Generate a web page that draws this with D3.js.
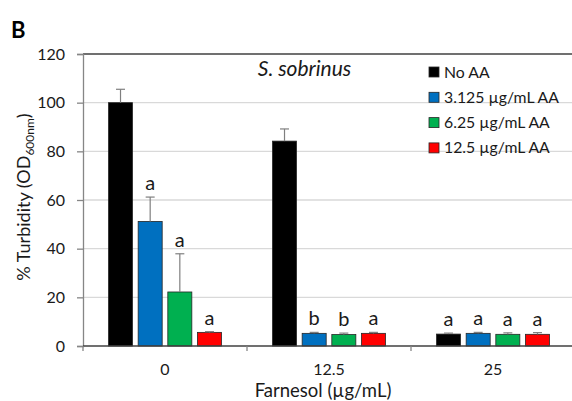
<!DOCTYPE html>
<html>
<head>
<meta charset="utf-8">
<script src="https://cdn.jsdelivr.net/npm/d3@7/dist/d3.min.js"></script>
<style>
  html, body { margin: 0; padding: 0; background: #fff; }
  svg { display: block; font-family: Lato, "Open Sans", sans-serif; }
</style>
</head>
<body>
<svg id="chart" width="572" height="401"></svg>
<script>
// Farnesol concentrations (x categories)
const categories = ["0", "12.5", "25"];
// Ascorbic acid treatments (series)
const seriesNames = ["No AA", "3.125 µg/mL AA", "6.25 µg/mL AA", "12.5 µg/mL AA"];
const seriesColors = ["#000000", "#0070c0", "#00b050", "#ff0000"];
// Mean % turbidity per series, one value per farnesol concentration
const noAA    = [100, 84.2, 4.9];
const aa3125  = [51.2, 5.2, 5.2];
const aa625   = [22.2, 4.7, 4.8];
const aa125   = [5.6, 5.2, 4.8];
// Standard deviations (upper error bars)
const noAAErr   = [5.5, 5.0, 0.4];
const aa3125Err = [10.0, 0.4, 0.4];
const aa625Err  = [15.7, 0.6, 0.6];
const aa125Err  = [0.3, 0.4, 0.7];
// Significance letters
const noAALetters   = ["", "", "a"];
const aa3125Letters = ["a", "b", "a"];
const aa625Letters  = ["a", "b", "a"];
const aa125Letters  = ["a", "a", "a"];
const yTicks = [0, 20, 40, 60, 80, 100, 120];

const values = [noAA, aa3125, aa625, aa125];
const errors = [noAAErr, aa3125Err, aa625Err, aa125Err];
const letters = [noAALetters, aa3125Letters, aa625Letters, aa125Letters];

const svg = d3.select("#chart");
const m = { left: 83, top: 54, right: 575, bottom: 346 };

const x0 = d3.scaleBand().domain(categories).range([m.left, m.right]);
// the four bars of a group sit in the middle of each category band
const groupWidth = 113;
const xs = d3.scaleBand().domain(d3.range(seriesNames.length))
  .range([(x0.bandwidth() - groupWidth) / 2, (x0.bandwidth() + groupWidth) / 2])
  .paddingInner(0.19).paddingOuter(0.0);
const y = d3.scaleLinear().domain([0, 120]).range([m.bottom, m.top]);

// gridlines
svg.append("g").selectAll("line").data(yTicks.filter(t => t > 0 && t < 120)).join("line")
  .attr("x1", m.left).attr("x2", m.right)
  .attr("y1", d => y(d)).attr("y2", d => y(d))
  .attr("stroke", "#d9d9d9").attr("stroke-width", 1.3);

// top border
svg.append("line").attr("x1", m.left).attr("x2", m.right)
  .attr("y1", y(120)).attr("y2", y(120))
  .attr("stroke", "#404040").attr("stroke-width", 1.3);

// y axis
const yAxis = svg.append("g").attr("transform", `translate(${m.left},0)`)
  .call(d3.axisLeft(y).tickValues(yTicks).tickSize(6).tickPadding(12));
yAxis.select(".domain").attr("stroke", "#868686").attr("stroke-width", 1.3);
yAxis.selectAll(".tick line").attr("stroke", "#868686").attr("stroke-width", 1.3);
yAxis.selectAll("text").attr("font-family", "Lato, sans-serif").attr("font-size", 16).attr("fill", "#1a1a1a");

// bars, error bars and significance letters
const groups = svg.append("g").selectAll("g").data(categories).join("g")
  .attr("transform", d => `translate(${x0(d)},0)`);

seriesNames.forEach((name, s) => {
  groups.each(function (c, i) {
    const v = values[s][i], e = errors[s][i], l = letters[s][i];
    const g = d3.select(this);
    const bx = xs(s), bw = xs.bandwidth();
    g.append("rect")
      .attr("x", bx).attr("width", bw)
      .attr("y", y(v)).attr("height", y(0) - y(v))
      .attr("fill", seriesColors[s]).attr("stroke", "#262626").attr("stroke-width", 0.8);
    const cx = bx + bw / 2;
    g.append("line").attr("x1", cx).attr("x2", cx)
      .attr("y1", y(v)).attr("y2", y(v + e))
      .attr("stroke", "#7f7f7f").attr("stroke-width", 1.2);
    g.append("line").attr("x1", cx - 4.5).attr("x2", cx + 4.5)
      .attr("y1", y(v + e)).attr("y2", y(v + e))
      .attr("stroke", "#7f7f7f").attr("stroke-width", 1.2);
    if (l) {
      g.append("text").attr("x", cx).attr("y", y(v + e) - 7)
        .attr("text-anchor", "middle").attr("font-size", 20).attr("fill", "#1a1a1a")
        .text(l);
    }
  });
});

// x axis
const xAxis = svg.append("g").attr("transform", `translate(0,${m.bottom})`);
xAxis.append("line").attr("x1", m.left).attr("x2", m.right)
  .attr("stroke", "#404040").attr("stroke-width", 1.3);
xAxis.selectAll("line.tk").data(categories).join("line").attr("class", "tk")
  .attr("x1", d => x0(d)).attr("x2", d => x0(d)).attr("y1", 0).attr("y2", 5)
  .attr("stroke", "#868686").attr("stroke-width", 1.3);
xAxis.selectAll("text").data(categories).join("text")
  .attr("x", d => x0(d) + x0.bandwidth() / 2).attr("y", 29)
  .attr("text-anchor", "middle").attr("font-size", 16).attr("fill", "#1a1a1a")
  .text(d => d);

// axis titles
svg.append("text").attr("x", 323).attr("y", 396.5).attr("text-anchor", "middle")
  .attr("font-size", 18.5).attr("fill", "#1a1a1a").text("Farnesol (µg/mL)");

const yt = svg.append("text")
  .attr("transform", "translate(30,197) rotate(-90)")
  .attr("text-anchor", "middle").attr("font-size", 18).attr("fill", "#1a1a1a");
yt.append("tspan").text("% Turbidity (OD");
yt.append("tspan").attr("font-size", 12).attr("dy", 4).text("600nm");
yt.append("tspan").attr("dy", -4).text(")");

// panel letter and title
svg.append("text").attr("x", 11).attr("y", 38).attr("font-size", 22)
  .attr("font-weight", "bold").attr("fill", "#000").text("B");
svg.append("text").attr("x", 304.5).attr("y", 76).attr("text-anchor", "middle")
  .attr("font-size", 21).attr("font-style", "italic").attr("fill", "#1a1a1a").text("S. sobrinus");

// legend
const legend = svg.append("g").attr("transform", "translate(429,72)");
const li = legend.selectAll("g").data(seriesNames).join("g")
  .attr("transform", (d, i) => `translate(0,${i * 25.3})`);
li.append("rect").attr("x", 0).attr("y", -5).attr("width", 10).attr("height", 10)
  .attr("fill", (d, i) => seriesColors[i]).attr("stroke", "#262626").attr("stroke-width", 0.8);
li.append("text").attr("x", 15).attr("y", 5.5).attr("font-size", 15.8).attr("fill", "#1a1a1a")
  .text(d => d);
</script>
</body>
</html>
